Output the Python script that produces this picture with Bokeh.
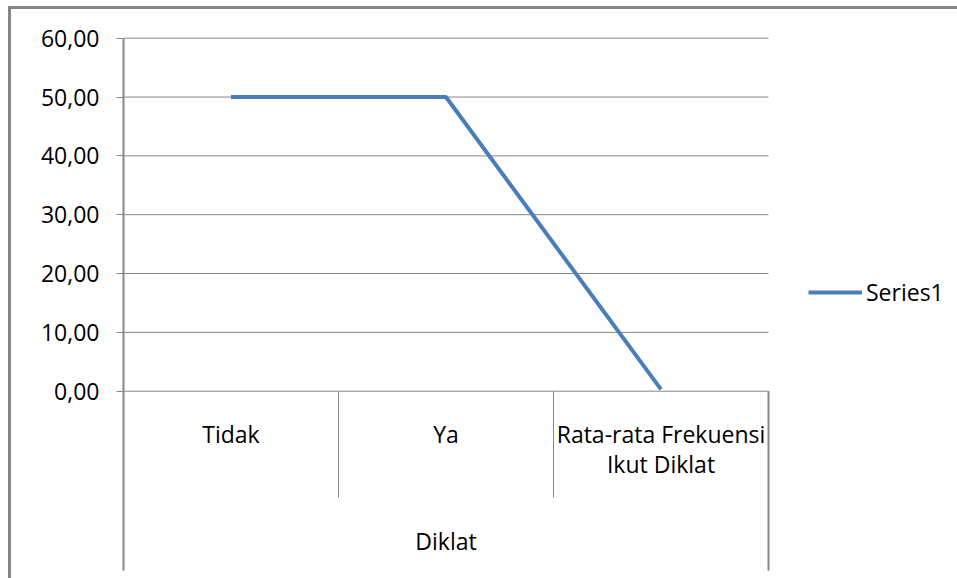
from bokeh.plotting import figure
from bokeh.models import Range1d, FixedTicker, ColumnDataSource, Legend, LegendItem
from bokeh.core.properties import value
from bokeh.embed import file_html
from bokeh.resources import INLINE

# ---- data ----
categories = ["Tidak", "Ya", "Rata-rata Frekuensi\nIkut Diklat"]
group_label = "Diklat"
series_name = "Series1"
series_values = [50.0, 50.0, 0.3]
y_ticks = [0, 10, 20, 30, 40, 50, 60]
y_tick_labels = ["0,00", "10,00", "20,00", "30,00", "40,00", "50,00", "60,00"]

FONT = "Open Sans"
FS = "23px"
GRAY = "#868686"
BLUE = "#4A7EBB"

n = len(categories)
centers = [i + 0.5 for i in range(n)]
Y_BOTTOM = -30.48     # bottom of the category-axis box
Y_SEP = -18.07        # bottom of the category separators

p = figure(width=957, height=578, output_backend="svg", toolbar_location=None,
           x_range=Range1d(0, 3.879), y_range=Range1d(-31.84, 66.41),
           min_border_left=123, min_border_right=0, min_border_top=0,
           min_border_bottom=0, x_axis_location=None)
p.outline_line_color = None
p.background_fill_color = None
p.border_fill_color = None
p.styles = {"background": "linear-gradient(#868686,#868686) 8px 6px / 3px 100% no-repeat, "
                          "linear-gradient(#868686,#868686) 8px 6px / 100% 3px no-repeat, #ffffff"}

# y axis
ax = p.yaxis[0]
ax.ticker = FixedTicker(ticks=y_ticks)
ax.bounds = (Y_BOTTOM, y_ticks[-1])
ax.major_label_overrides = {t: l for t, l in zip(y_ticks, y_tick_labels)}
ax.axis_line_color = GRAY
ax.axis_line_width = 2
ax.major_tick_line_color = GRAY
ax.major_tick_out = 7
ax.major_tick_in = 0
ax.minor_tick_line_color = None
ax.major_label_standoff = 17
ax.major_label_text_font = FONT
ax.major_label_text_font_size = FS
ax.major_label_text_color = "black"

p.xgrid.visible = False
p.ygrid.visible = False

# horizontal gridlines across the category span
p.segment(x0=[0] * len(y_ticks), y0=y_ticks, x1=[n] * len(y_ticks), y1=y_ticks,
          line_color=GRAY, line_width=1)

# category separators and group box
sep_x = [float(i) for i in range(1, n)]
p.segment(x0=sep_x, y0=[0] * len(sep_x), x1=sep_x, y1=[Y_SEP] * len(sep_x),
          line_color=GRAY, line_width=1)
p.segment(x0=[float(n)], y0=[0], x1=[float(n)], y1=[Y_BOTTOM], line_color=GRAY, line_width=2)

# category labels
p.text(x=centers, y=[-4.55] * n, text=categories, text_font=value(FONT),
       text_font_size=FS, text_align="center", text_baseline="top",
       text_line_height=0.95, text_color="black")
p.text(x=[n / 2], y=[-25.4], text=[group_label], text_font=value(FONT),
       text_font_size=FS, text_align="center", text_baseline="middle",
       text_color="black")

# series line
src = ColumnDataSource(dict(x=centers, y=series_values))
r = p.line("x", "y", source=src, line_color=BLUE, line_width=4)

legend = Legend(items=[LegendItem(label=series_name, renderers=[r])],
                location=(685, 270), border_line_color=None, background_fill_alpha=0,
                padding=0, margin=0, glyph_width=54, label_standoff=4,
                label_text_font=FONT, label_text_font_size=FS, label_text_color="black",
                spacing=0)
p.add_layout(legend)

open("out.html", "w").write(file_html(p, INLINE))
